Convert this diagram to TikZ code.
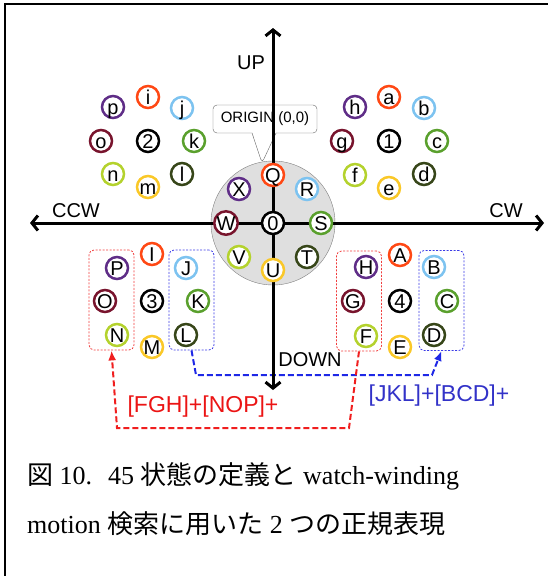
\documentclass[tikz,border=0pt]{standalone}
\usepackage{fontspec}
\setmainfont{Liberation Serif}
\newfontfamily\labfont{Liberation Sans}
\newfontfamily\jpfont{Noto Sans CJK JP}
\usetikzlibrary{arrows.meta, positioning, shapes.callouts}

\definecolor{orng}{RGB}{255,72,20}
\definecolor{sky}{RGB}{125,195,240}
\definecolor{grn}{RGB}{90,160,45}
\definecolor{dolive}{RGB}{55,70,25}
\definecolor{gold}{RGB}{250,200,40}
\definecolor{ylgrn}{RGB}{180,210,45}
\definecolor{wine}{RGB}{120,20,45}
\definecolor{purp}{RGB}{95,45,135}
\definecolor{boxred}{RGB}{240,60,60}
\definecolor{boxblue}{RGB}{60,60,230}
\definecolor{lnkred}{RGB}{240,30,30}
\definecolor{lnkblue}{RGB}{30,40,230}
\definecolor{txtred}{RGB}{235,20,20}
\definecolor{txtblue}{RGB}{50,50,200}

\begin{document}
\begin{tikzpicture}[
x=1pt, y=-1pt,
state/.style={circle, draw=#1, line width=2.5pt, fill=white, minimum size=22pt, inner sep=0pt, text height=14pt, text depth=0pt, font=\labfont\fontsize{20}{20}\selectfont},
state/.default=black,
lbl/.style={font=\labfont\fontsize{20}{20}\selectfont, inner sep=0pt},
grp/.style={draw=#1, rectangle, rounded corners=5pt, line width=0.8pt, dash pattern=on 2pt off 1.5pt, minimum width=45pt, minimum height=100pt},
link/.style={draw=#1, line width=2pt, dash pattern=on 6pt off 3pt, -{Latex[length=10pt,width=8pt]}},
axis/.style={line width=3pt, {Straight Barb[length=6pt,width=15pt]}-{Straight Barb[length=6pt,width=15pt]}},
regex/.style={font=\labfont\fontsize{23}{23}\selectfont, inner sep=0pt},
capt/.style={anchor=base west, inner sep=0pt, font=\fontsize{26}{49}\selectfont}
]
\useasboundingbox (0,0) rectangle (547,576);

% frame
\draw[line width=2pt] (5,600) -- (5,4) -- (600,4);

% origin disk
\node[circle, draw=gray, fill=gray!25, minimum size=124pt, inner sep=0pt] (disk) at (273,223) {};
\node[rectangle callout, callout absolute pointer={(262,163)}, callout pointer width=24pt, draw=gray!80!black, fill=white, rounded corners=4pt, minimum width=104pt, minimum height=28pt, inner sep=0pt, font=\labfont\fontsize{15}{15}\selectfont] (origin) at (265,119) {ORIGIN (0,0)};

% groups
\node[grp=boxred] (nop) at (111.5,300) {};
\node[grp=boxblue] (jkl) at (191.5,300) {};
\node[grp=boxred] (fgh) at (359,301) {};
\node[grp=boxblue] (bcd) at (441.5,300.5) {};

\coordinate (jklLow) at (196,375);
\coordinate (bcdLow) at (432,375);
\coordinate (fghLow) at (349,428);
\coordinate (nopLow) at (117,428);

\draw[link=lnkblue] (jkl.south) -- (jklLow) -- (bcdLow) -- (bcd.south);
\draw[link=lnkred] (fgh.south) -- (fghLow) -- (nopLow) -- (nop.south);

% axes
\coordinate (upEnd) at (273,28);
\coordinate (downEnd) at (273,390);
\coordinate (ccwEnd) at (30,223);
\coordinate (cwEnd) at (544,223);
\draw[axis] (ccwEnd) -- (cwEnd);
\draw[axis] (upEnd) -- (downEnd);

% state 0
\node[state] (n0) at (273,223) {0};
\node[state=orng] (Q) at (273,175) {Q};
\node[state=sky] (R) at (307,189) {R};
\node[state=grn] (S) at (321,223) {S};
\node[state=dolive] (T) at (307,257) {T};
\node[state=gold] (U) at (273,270) {U};
\node[state=ylgrn] (V) at (239,257) {V};
\node[state=wine] (W) at (226,223) {W};
\node[state=purp] (X) at (239,189) {X};

% state 1
\node[state] (n1) at (389,141) {1};
\node[state=orng] (a) at (389,97) {a};
\node[state=sky] (b) at (424,108) {b};
\node[state=grn] (c) at (437,141) {c};
\node[state=dolive] (d) at (424,174) {d};
\node[state=gold] (e) at (389,188) {e};
\node[state=ylgrn] (f) at (355,175) {f};
\node[state=wine] (g) at (342,141) {g};
\node[state=purp] (h) at (355,107) {h};

% state 2
\node[state] (n2) at (148,141) {2};
\node[state=orng] (i) at (148,97) {i};
\node[state=sky] (j) at (182,108) {j};
\node[state=grn] (k) at (194,141) {k};
\node[state=dolive] (l) at (182,174) {l};
\node[state=gold] (m) at (148,187) {m};
\node[state=ylgrn] (n) at (113,174) {n};
\node[state=wine] (o) at (101,141) {o};
\node[state=purp] (p) at (113,107) {p};

% state 3
\node[state] (n3) at (152,301) {3};
\node[state=orng] (I) at (152,254) {I};
\node[state=sky] (J) at (186,268) {J};
\node[state=grn] (K) at (198,301) {K};
\node[state=dolive] (L) at (186,335) {L};
\node[state=gold] (M) at (152,347) {M};
\node[state=ylgrn] (N) at (117,335) {N};
\node[state=wine] (O) at (105,301) {O};
\node[state=purp] (P) at (117,268) {P};

% state 4
\node[state] (n4) at (400,301) {4};
\node[state=orng] (A) at (400,255) {A};
\node[state=sky] (B) at (434,267) {B};
\node[state=grn] (C) at (447,301) {C};
\node[state=dolive] (D) at (434,335) {D};
\node[state=gold] (E) at (400,347) {E};
\node[state=ylgrn] (F) at (366,336) {F};
\node[state=wine] (G) at (353,301) {G};
\node[state=purp] (H) at (366,267) {H};

% labels
\node[lbl] (upLbl) at (251,63) {UP};
\node[lbl] (downLbl) at (310,360) {DOWN};
\node[lbl] (ccwLbl) at (76,211) {CCW};
\node[lbl] (cwLbl) at (506,211) {CW};

\node[regex, text=txtred] (reNOP) at (203,407) {[FGH]+[NOP]+};
\node[regex, text=txtblue] (reBCD) at (439,396) {[JKL]+[BCD]+};

% caption
\node[capt] (cap1) at (27,484) {{\jpfont 図} 10.\hspace{16pt}45 {\jpfont 状態の定義と} watch-winding};
\node[capt] (cap2) at (27,533) {motion {\jpfont 検索に用いた} 2 {\jpfont つの正規表現}};

\end{tikzpicture}
\end{document}
